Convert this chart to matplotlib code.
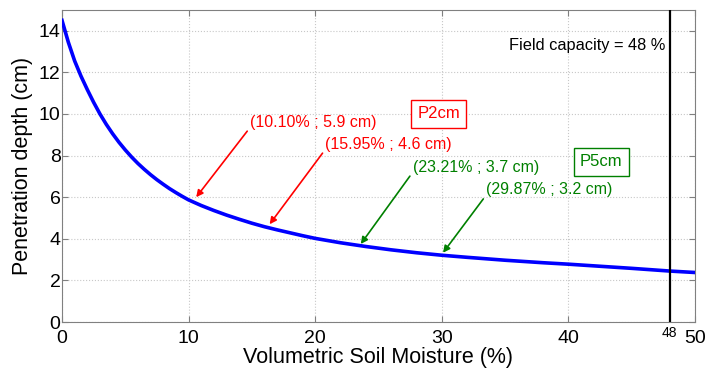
import matplotlib.pyplot as plt
import numpy as np

plt.rcParams['font.family'] = ['Liberation Sans', 'DejaVu Sans']

# curve
humidade = np.array([0, 0.5, 1, 1.5, 2, 2.5, 3, 3.5, 4, 4.5, 5, 5.5, 6, 6.5, 7, 7.5, 8, 8.5, 9, 9.5,
                     10, 11, 12, 13, 14, 15, 16, 17, 18, 19, 20, 22, 24, 26, 28, 30, 32, 35, 38, 40,
                     43, 45, 48, 50])
profundidade = np.array([14.5, 13.45, 12.55, 11.82, 11.17, 10.56, 10.0, 9.5, 9.05, 8.64, 8.27, 7.93, 7.62,
                         7.34, 7.08, 6.84, 6.62, 6.41, 6.22, 6.04, 5.87, 5.6, 5.36, 5.14, 4.94, 4.75, 4.58,
                         4.43, 4.29, 4.15, 4.02, 3.81, 3.63, 3.47, 3.33, 3.21, 3.11, 2.97, 2.85, 2.78,
                         2.66, 2.58, 2.45, 2.38])

capacidade_campo = 48

# annotations: text, colour, arrow tip, text position
notas = ["(10.10% ; 5.9 cm)", "(15.95% ; 4.6 cm)", "(23.21% ; 3.7 cm)", "(29.87% ; 3.2 cm)"]
cores_notas = ["red", "red", "green", "green"]
pontas = [(10.6, 6.0), (16.4, 4.7), (23.6, 3.75), (30.1, 3.33)]
pos_texto = [(14.85, 9.6), (20.8, 8.55), (27.7, 7.45), (33.5, 6.35)]

caixas = ["P2cm", "P5cm"]
cores_caixas = ["red", "green"]
pos_caixas = [(29.75, 10.0), (42.6, 7.7)]

fig = plt.figure(figsize=(7.07, 3.70), dpi=100)
ax = fig.add_axes([0.0877, 0.1297, 0.8953, 0.8433])

ax.plot(humidade, profundidade, color="blue", lw=2.6, zorder=3, solid_joinstyle="round")
ax.axvline(capacidade_campo, color="black", lw=1.6, zorder=4)

ax.text(47.7, 13.3, "Field capacity = 48 %", ha="right", va="center", fontsize=11.8)

for txt, cor, ponta, pos in zip(notas, cores_notas, pontas, pos_texto):
    ax.annotate(txt, xy=ponta, xytext=pos, color=cor, fontsize=11.5, ha="left", va="center",
                arrowprops=dict(arrowstyle="-|>", color=cor, lw=1.2, mutation_scale=10,
                                shrinkA=0, shrinkB=0,
                                relpos=(0, 0.15)))

for txt, cor, pos in zip(caixas, cores_caixas, pos_caixas):
    ax.text(pos[0], pos[1], txt, color=cor, fontsize=12, ha="center", va="center",
            bbox=dict(boxstyle="square,pad=0.38", fc="white", ec=cor, lw=1))

ax.set_xlim(0, 50)
ax.set_ylim(0, 15)
ax.set_xticks([0, 10, 20, 30, 40, 50])
ax.set_xticks([capacidade_campo], labels=["48"], minor=True)
ax.set_yticks(np.arange(0, 15, 2))

ax.grid(True, color="#c8c8c8", linestyle=":", lw=0.8)
ax.tick_params(which="both", direction="in", top=True, right=True, color="#808080", length=4)
ax.tick_params(axis="x", which="major", labelsize=14, pad=6)
ax.tick_params(axis="x", which="minor", labelsize=10, pad=3, length=0)
ax.tick_params(axis="y", labelsize=14, pad=1)
for s in ax.spines.values():
    s.set_color("#808080")

ax.set_xlabel("Volumetric Soil Moisture (%)", fontsize=15.5, labelpad=0)
ax.set_ylabel("Penetration depth (cm)", fontsize=15.5, labelpad=4)

fig.savefig("out.png", dpi=100)
